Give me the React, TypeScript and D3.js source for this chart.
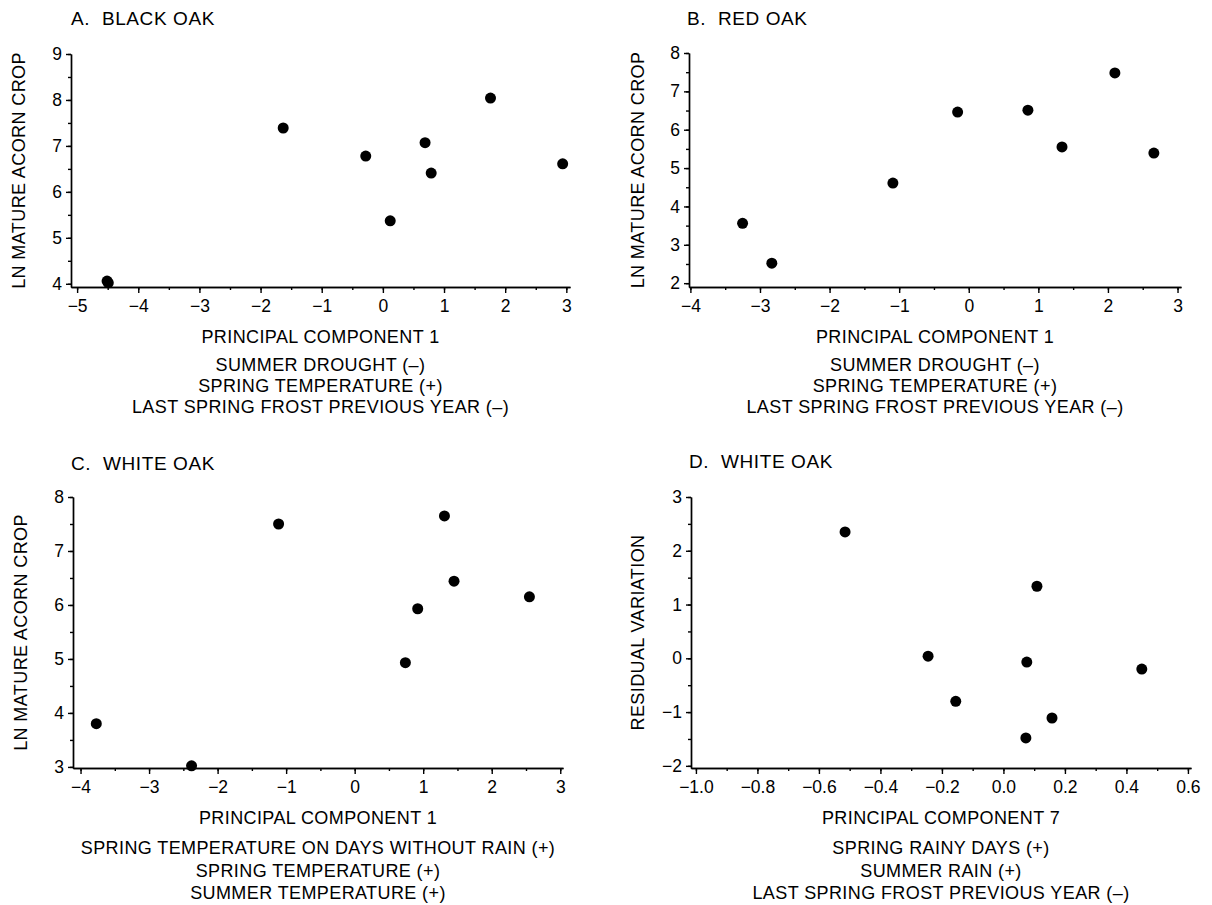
import React, { useEffect, useRef } from "react";
import * as d3 from "d3";

// A. black oak
const blackOakPC1 = [-4.51, -4.49, -1.63, -0.28, 0.12, 0.69, 0.79, 1.76, 2.94];
const blackOakCrop = [4.06, 4.02, 7.39, 6.78, 5.37, 7.07, 6.41, 8.04, 6.61];
const blackXTicks = [-5, -4, -3, -2, -1, 0, 1, 2, 3];
const blackYTicks = [4, 5, 6, 7, 8, 9];

// B. red oak
const redOakPC1 = [-3.25, -2.83, -1.09, -0.16, 0.85, 1.34, 2.1, 2.66];
const redOakCrop = [3.56, 2.52, 4.61, 6.46, 6.51, 5.55, 7.48, 5.39];
const redXTicks = [-4, -3, -2, -1, 0, 1, 2, 3];
const redYTicks = [2, 3, 4, 5, 6, 7, 8];

// C. white oak vs PC1
const whiteOakPC1 = [-3.77, -2.38, -1.11, 0.74, 0.92, 1.31, 1.45, 2.55];
const whiteOakCrop = [3.8, 3.02, 7.5, 4.93, 5.93, 7.65, 6.44, 6.15];
const whiteXTicks = [-4, -3, -2, -1, 0, 1, 2, 3];
const whiteYTicks = [3, 4, 5, 6, 7, 8];

// D. white oak residuals vs PC7
const whiteOakPC7 = [-0.515, -0.245, -0.155, 0.073, 0.076, 0.109, 0.158, 0.45];
const whiteOakResidual = [2.35, 0.04, -0.8, -1.48, -0.07, 1.34, -1.11, -0.2];
const residXTicks = [-1.0, -0.8, -0.6, -0.4, -0.2, 0.0, 0.2, 0.4, 0.6];
const residYTicks = [-2, -1, 0, 1, 2, 3];

const pc1Notes1 = ["SUMMER DROUGHT (\u2013)", "SPRING TEMPERATURE (+)", "LAST SPRING FROST PREVIOUS YEAR (\u2013)"];
const pc1Notes2 = ["SPRING TEMPERATURE ON DAYS WITHOUT RAIN (+)", "SPRING TEMPERATURE (+)", "SUMMER TEMPERATURE (+)"];
const pc7Notes = ["SPRING RAINY DAYS (+)", "SUMMER RAIN (+)", "LAST SPRING FROST PREVIOUS YEAR (\u2013)"];

const FONT = "'Liberation Sans', Arial, Helvetica, sans-serif";

const panels = [
  {
    title: "A.  BLACK OAK", titleX: 71, titleY: 25,
    xs: blackOakPC1, ys: blackOakCrop, xTicks: blackXTicks, yTicks: blackYTicks, xStep: 0.5, yStep: 0.5, xFmt: "d",
    xDomain: [-5.1, 3.06], xRange: [71, 570], yDomain: [3.93, 9], yRange: [287, 54],
    yLabel: "LN MATURE ACORN CROP", yLabelX: 25,
    xLabel: "PRINCIPAL COMPONENT 1", notes: pc1Notes1, labelY: 343, noteY: [371, 392, 413],
  },
  {
    title: "B.  RED OAK", titleX: 687, titleY: 25,
    xs: redOakPC1, ys: redOakCrop, xTicks: redXTicks, yTicks: redYTicks, xStep: 0.5, yStep: 0.5, xFmt: "d",
    xDomain: [-4.02, 3.05], xRange: [689, 1181], yDomain: [1.9, 8], yRange: [287, 53],
    yLabel: "LN MATURE ACORN CROP", yLabelX: 644,
    xLabel: "PRINCIPAL COMPONENT 1", notes: pc1Notes1, labelY: 343, noteY: [371, 392, 413],
  },
  {
    title: "C.  WHITE OAK", titleX: 71, titleY: 470,
    xs: whiteOakPC1, ys: whiteOakCrop, xTicks: whiteXTicks, yTicks: whiteYTicks, xStep: 0.5, yStep: 0.5, xFmt: "d",
    xDomain: [-4.11, 3.04], xRange: [73, 563], yDomain: [2.98, 8], yRange: [768, 497],
    yLabel: "LN MATURE ACORN CROP", yLabelX: 27,
    xLabel: "PRINCIPAL COMPONENT 1", notes: pc1Notes2, labelY: 824, noteY: [854, 877, 899],
  },
  {
    title: "D.  WHITE OAK", titleX: 689, titleY: 468,
    xs: whiteOakPC7, ys: whiteOakResidual, xTicks: residXTicks, yTicks: residYTicks, xStep: 0.1, yStep: 0.5, xFmt: ".1f",
    xDomain: [-1.016, 0.61], xRange: [691, 1191], yDomain: [-2.04, 3], yRange: [768, 497],
    yLabel: "RESIDUAL VARIATION", yLabelX: 644,
    xLabel: "PRINCIPAL COMPONENT 7", notes: pc7Notes, labelY: 824, noteY: [854, 877, 899],
  },
];

export default function App() {
  const ref = useRef<SVGSVGElement>(null);

  useEffect(() => {
    const svg = d3.select(ref.current);
    svg.selectAll("*").remove();

    panels.forEach((p) => {
      const g = svg.append("g");
      const x = d3.scaleLinear().domain(p.xDomain).range(p.xRange);
      const y = d3.scaleLinear().domain(p.yDomain).range(p.yRange);
      const x0 = p.xRange[0];
      const y0 = p.yRange[0];

      // minor ticks at half / tenth steps
      const xMinor = d3.range(p.xTicks[0], p.xTicks[p.xTicks.length - 1] + 1e-9, p.xStep);
      const yMinor = d3.range(p.yTicks[0], p.yTicks[p.yTicks.length - 1] + 1e-9, p.yStep);

      g.append("g")
        .attr("transform", `translate(0,${y0})`)
        .call(d3.axisBottom(x).tickValues(xMinor).tickSize(3).tickSizeOuter(0).tickFormat(() => ""));
      g.append("g")
        .attr("transform", `translate(${x0},0)`)
        .call(d3.axisLeft(y).tickValues(yMinor).tickSize(3).tickSizeOuter(0).tickFormat(() => ""));

      const xAxis = g.append("g")
        .attr("transform", `translate(0,${y0})`)
        .call(d3.axisBottom(x).tickValues(p.xTicks).tickSize(6).tickPadding(7).tickSizeOuter(0)
          .tickFormat(d3.format(p.xFmt) as any));
      const yAxis = g.append("g")
        .attr("transform", `translate(${x0},0)`)
        .call(d3.axisLeft(y).tickValues(p.yTicks).tickSize(5).tickPadding(4).tickSizeOuter(0)
          .tickFormat(d3.format("d") as any));

      [xAxis, yAxis].forEach((a) => {
        a.selectAll("text").style("font-family", FONT).style("font-size", "17.5px").attr("fill", "#000");
      });
      g.selectAll(".domain, .tick line").attr("stroke", "#000").attr("stroke-width", 1.4);

      // points
      g.selectAll("circle.pt")
        .data(p.xs.map((v, i) => [v, p.ys[i]]))
        .enter().append("circle")
        .attr("class", "pt")
        .attr("cx", (d) => x(d[0]))
        .attr("cy", (d) => y(d[1]))
        .attr("r", 5.5)
        .attr("fill", "#000");

      const txt = (sel: any) => sel
        .style("font-family", FONT)
        .style("font-size", "18px")
        .style("letter-spacing", "0.4px")
        .attr("fill", "#000");

      // panel title
      g.append("text")
        .attr("x", p.titleX)
        .attr("y", p.titleY)
        .style("white-space", "pre")
        .call(txt)
        .style("font-size", "19px")
        .style("letter-spacing", "0.6px")
        .text(p.title);

      // y axis title
      g.append("text")
        .attr("transform", `translate(${p.yLabelX},${(p.yRange[0] + p.yRange[1]) / 2}) rotate(-90)`)
        .attr("text-anchor", "middle")
        .call(txt)
        .text(p.yLabel);

      const cx = (p.xRange[0] + p.xRange[1]) / 2;
      g.append("text")
        .attr("x", cx)
        .attr("y", p.labelY)
        .attr("text-anchor", "middle")
        .call(txt)
        .text(p.xLabel);

      p.notes.forEach((n, i) => {
        g.append("text")
          .attr("x", cx)
          .attr("y", p.noteY[i])
          .attr("text-anchor", "middle")
          .call(txt)
          .text(n);
      });
    });
  }, []);

  return (
    <svg
      ref={ref}
      width={1212}
      height={905}
      style={{ position: "absolute", left: 0, top: 0, background: "#fff" }}
    />
  );
}
